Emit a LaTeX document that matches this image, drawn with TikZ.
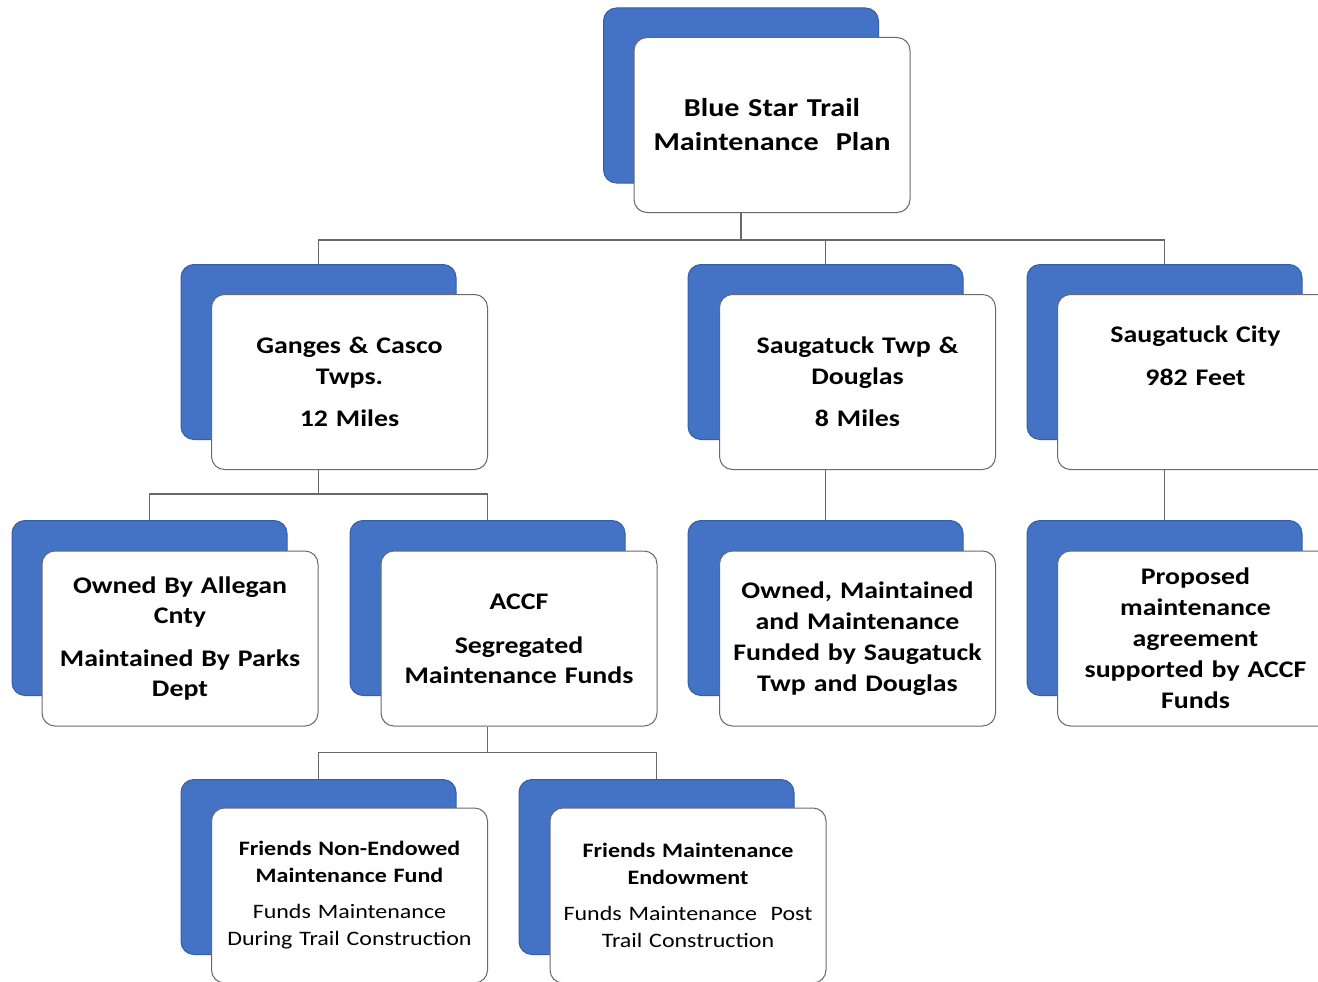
\documentclass[tikz,border=0pt]{standalone}
\usepackage{fontspec}
\setmainfont[FakeStretch=1.17]{Carlito}
\usetikzlibrary{shapes, arrows.meta, positioning, calc}
\definecolor{boxblue}{RGB}{68,114,196}
\definecolor{boxedge}{RGB}{52,94,172}
\definecolor{linegrey}{RGB}{105,105,105}

\begin{document}
\begin{tikzpicture}[
			x=1pt, y=-1pt,
			back/.style={rectangle, rounded corners=13pt, draw=boxedge, line width=1pt, fill=boxblue, minimum width=275pt, minimum height=175pt, inner sep=0pt},
			front/.style={rectangle, rounded corners=13pt, draw=linegrey, line width=1pt, fill=white, minimum width=276pt, minimum height=175pt, inner sep=0pt, text width=262pt, align=center},
			link/.style={draw=linegrey, line width=1.2pt}
			]
			
			\useasboundingbox[fill=white] (0,0) rectangle (1318,982);
			
			\node[back] (topb) at (741,95.5) {};
			\node[back] (gangesb) at (318.5,352) {};
			\node[back] (stwpb) at (825.5,352) {};
			\node[back] (scityb) at (1164.5,352) {};
			\node[back] (alleganb) at (149.5,608) {};
			\node[back] (accfb) at (487.5,608) {};
			\node[back] (ownedb) at (825.5,608) {};
			\node[back] (proposedb) at (1164.5,608) {};
			\node[back] (nonendb) at (318.5,867) {};
			\node[back] (endowb) at (656.5,867) {};
			
			\node[front, font=\bfseries\fontsize{25.8}{34}\selectfont] (top) at (772,125) {Blue Star Trail\\Maintenance~ Plan};
			
			\node[front, font=\bfseries\fontsize{23.8}{31}\selectfont] (ganges) at (349.5,382) {Ganges \& Casco\\Twps.\\[11pt]12 Miles};
			\node[front, font=\bfseries\fontsize{23.8}{31}\selectfont] (stwp) at (857.5,382) {Saugatuck Twp \&\\Douglas\\[11pt]8 Miles};
			\node[front, font=\bfseries\fontsize{23.8}{31}\selectfont] (scity) at (1195.5,382) {Saugatuck City\\[12pt]982 Feet\\[12pt]\strut};
			
			\node[front, font=\bfseries\fontsize{23.8}{30}\selectfont] (allegan) at (180,638.5) {Owned By Allegan\\Cnty\\[13pt]Maintained By Parks\\Dept};
			\node[front, font=\bfseries\fontsize{23.8}{30}\selectfont] (accf) at (519,638.5) {ACCF\\[14pt]Segregated\\Maintenance Funds};
			\node[front, font=\bfseries\fontsize{23.8}{31}\selectfont] (owned) at (857.5,638.5) {Owned, Maintained\\and Maintenance\\Funded by Saugatuck\\Twp and Douglas};
			\node[front, font=\bfseries\fontsize{23.8}{31}\selectfont] (proposed) at (1195.5,638.5) {Proposed\\maintenance\\agreement\\supported by ACCF\\Funds};
			
			\node[front, font=\bfseries\fontsize{20.5}{27}\selectfont] (nonend) at (349.5,895.5) {Friends Non-Endowed\\Maintenance Fund\\[9pt]\mdseries Funds Maintenance\\During Trail Construction};
			\node[front, font=\bfseries\fontsize{20.5}{27}\selectfont] (endow) at (688,895.5) {Friends Maintenance\\Endowment\\[9pt]\mdseries Funds Maintenance~ Post\\Trail Construction};
			
			\draw[link] (topb |- top.south) -- ++(0,27) -| (gangesb.north);
			\draw[link] (topb |- top.south) -- ++(0,27) -| (stwpb.north);
			\draw[link] (topb |- top.south) -- ++(0,27) -| (scityb.north);
			
			\draw[link] (gangesb |- ganges.south) -- ++(0,24) -| (alleganb.north);
			\draw[link] (gangesb |- ganges.south) -- ++(0,24) -| (accfb.north);
			\draw[link] (stwpb |- stwp.south) -- (ownedb.north);
			\draw[link] (scityb |- scity.south) -- (proposedb.north);
			
			\draw[link] (accfb |- accf.south) -- ++(0,26) -| (nonendb.north);
			\draw[link] (accfb |- accf.south) -- ++(0,26) -| (endowb.north);
		\end{tikzpicture}
\end{document}
